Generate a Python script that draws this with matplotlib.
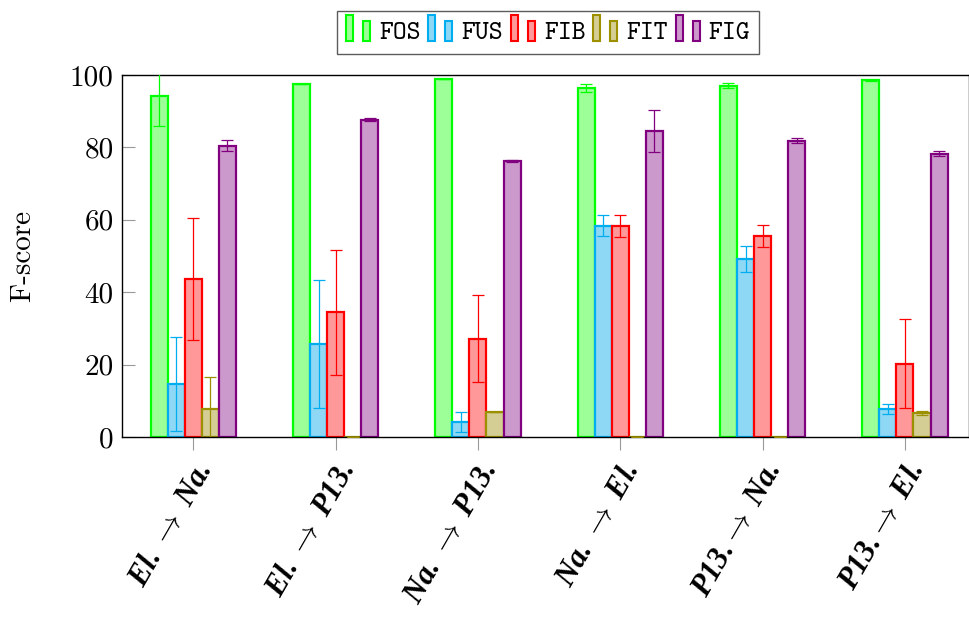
import matplotlib
matplotlib.use("Agg")
import matplotlib.pyplot as plt
import numpy as np
from matplotlib.legend_handler import HandlerBase
from matplotlib.patches import Patch, Rectangle

plt.rcParams['mathtext.fontset'] = 'cm'
plt.rcParams['axes.formatter.use_mathtext'] = True

groups = [r'El. $\rightarrow$ Na.', r'El. $\rightarrow$ P13.', r'Na. $\rightarrow$ P13.',
          r'Na. $\rightarrow$ El.', r'P13.$\rightarrow$ Na.', r'P13.$\rightarrow$ El.']
series = ['FOS', 'FUS', 'FIB', 'FIT', 'FIG']

fos = [94.2, 97.4, 98.9, 96.3, 97.1, 98.5]
fos_err = [8.2, 0.0, 0.0, 1.1, 0.8, 0.2]
fus = [14.6, 25.6, 4.1, 58.4, 49.2, 7.8]
fus_err = [13.0, 17.7, 2.7, 3.0, 3.5, 1.4]
fib = [43.6, 34.4, 27.2, 58.3, 55.6, 20.3]
fib_err = [16.8, 17.4, 12.0, 3.0, 3.0, 12.2]
fit = [7.8, 0.0, 6.9, 0.0, 0.0, 6.7]
fit_err = [8.9, 0.0, 0.0, 0.0, 0.0, 0.6]
fig_vals = [80.5, 87.7, 76.3, 84.5, 81.9, 78.3]
fig_err = [1.5, 0.5, 0.2, 5.9, 0.7, 0.6]

values = [fos, fus, fib, fit, fig_vals]
errors = [fos_err, fus_err, fib_err, fit_err, fig_err]
edges = ['#00ff00', '#00aeef', '#ff0000', '#9c9000', '#800080']
fills = ['#9dff97', '#8ed8f5', '#ff9999', '#d4ce95', '#cc99cc']


class TwoBarHandler(HandlerBase):
    # pgfplots style ybar legend: a tall bar and a short bar
    def create_artists(self, legend, orig_handle, xdescent, ydescent,
                       width, height, fontsize, trans):
        fc = orig_handle.get_facecolor()
        ec = orig_handle.get_edgecolor()
        w = width * 0.26
        y0 = -ydescent - height * 0.05
        r1 = Rectangle((-xdescent, y0), w, height * 1.3, fc=fc, ec=ec,
                       lw=1.5, transform=trans)
        r2 = Rectangle((-xdescent + width * 0.64, y0), w, height * 1.0, fc=fc,
                       ec=ec, lw=1.5, transform=trans)
        return [r1, r2]


fig = plt.figure(figsize=(9.69, 6.17), dpi=100)
ax = fig.add_axes([0.126, 0.2917, 0.874, 0.5867])

x = np.arange(len(groups))
bw = 0.12
handles = []
for i, name in enumerate(series):
    pos = x + (i - 2) * bw
    ax.bar(pos, values[i], width=bw, color=fills[i], edgecolor=edges[i],
           linewidth=1.6, zorder=2)
    ax.errorbar(pos, values[i], yerr=errors[i], fmt='none', ecolor=edges[i],
                elinewidth=0.9, capsize=4, capthick=0.9, zorder=3)
    handles.append(Patch(facecolor=fills[i], edgecolor=edges[i], label=name))

ax.set_ylim(0, 100)
ax.set_xlim(-0.5, 5.45)
ax.set_yticks([0, 20, 40, 60, 80, 100])
ax.set_yticklabels(['0', '20', '40', '60', '80', '100'], family='cmr10', fontsize=21)
ax.tick_params(axis='y', direction='in', length=9, color='#999999', width=0.8, pad=6)
ax.tick_params(axis='x', direction='out', length=9, color='#999999', width=0.8, pad=6)
ax.set_xticks(x)
ax.set_xticklabels(groups, rotation=60, ha='right', va='top', rotation_mode='anchor',
                   family='Liberation Serif', fontweight='bold', style='italic', fontsize=22)
ax.set_ylabel('F-score', family='cmr10', fontsize=21, labelpad=24)
for s in ax.spines.values():
    s.set_linewidth(1.0)

leg = ax.legend(handles=handles, handler_map={Patch: TwoBarHandler()}, ncol=5,
                loc='lower center', bbox_to_anchor=(0.503, 1.035), frameon=True,
                fancybox=False, edgecolor='#333333', prop={'family': 'cmtt10', 'size': 19},
                handlelength=1.0, handletextpad=0.25, columnspacing=0.3,
                borderpad=0.35, borderaxespad=0.3, handleheight=0.8)
leg.get_frame().set_linewidth(1.0)

fig.savefig('out.png', dpi=100)
